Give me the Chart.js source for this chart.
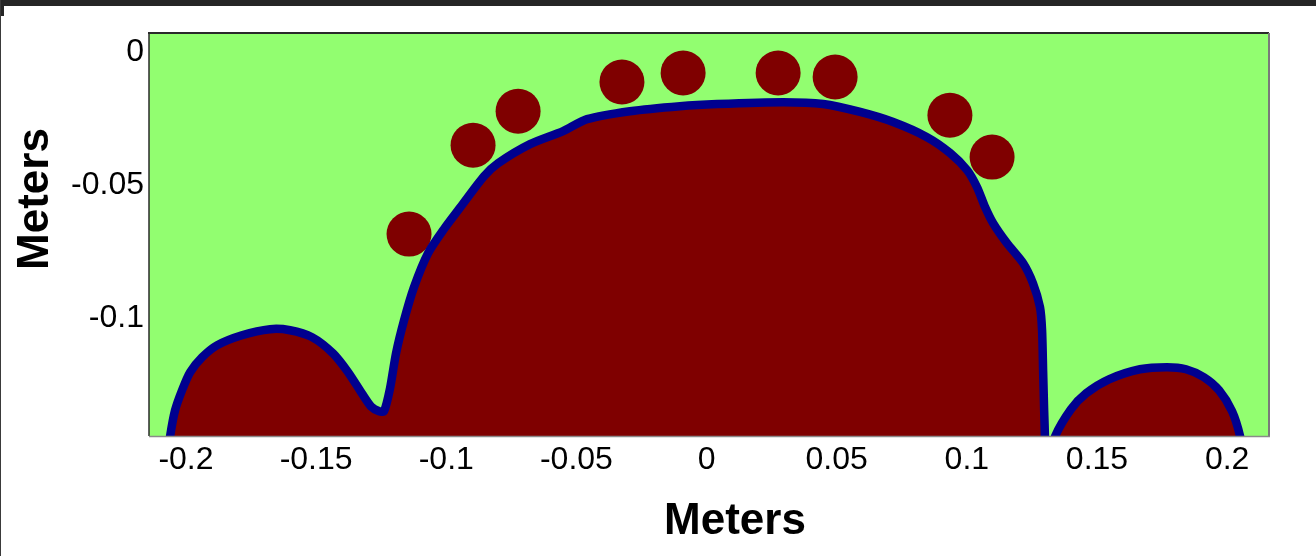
<!DOCTYPE html>
<html>
<head>
<meta charset="utf-8">
<script src="https://cdn.jsdelivr.net/npm/chart.js@4.4.0/dist/chart.umd.min.js"></script>
<style>
  html, body { margin: 0; padding: 0; background: #ffffff; }
  #wrap { position: relative; width: 1316px; height: 556px; overflow: hidden; }
  #plot { position: absolute; left: 0; top: 0; }
  .edge { position: absolute; background: #262626; }
</style>
</head>
<body>
<div id="wrap">
  <canvas id="plot" width="1316" height="556"></canvas>
  <div class="edge" style="left:0;top:0;width:1316px;height:6px"></div>
  <div class="edge" style="left:0;top:0;width:4px;height:16px"></div>
  <div class="edge" style="left:0;top:0;width:1px;height:556px;background:#3a3a3a"></div>
</div>
<script>
// Axis ticks (metres)
const xTicks = [-0.2, -0.15, -0.1, -0.05, 0, 0.05, 0.1, 0.15, 0.2];
const yTicks = [0, -0.05, -0.1];

// Interface of the merged left lobe + central body (x, y in metres)
const bodyX = [-0.2065, -0.2061, -0.2042, -0.2015, -0.1984, -0.1938, -0.1881, -0.1785, -0.1677,
  -0.1600, -0.1516, -0.1435, -0.1377, -0.1324, -0.1289, -0.1258, -0.1239, -0.1216, -0.1193,
  -0.1162, -0.1124, -0.1070, -0.1009, -0.0943, -0.0855, -0.0801, -0.0678, -0.0551, -0.0459,
  -0.0294, -0.0102, 0.0040, 0.0294, 0.0448, 0.0590, 0.0717, 0.0847, 0.0936, 0.1001, 0.1039,
  0.1070, 0.1101, 0.1154, 0.1216, 0.1254, 0.1281, 0.1289, 0.1293, 0.1297, 0.1300, 0.1300];
const bodyY = [-0.1490, -0.1446, -0.1348, -0.1272, -0.1204, -0.1148, -0.1103, -0.1065, -0.1042,
  -0.1046, -0.1072, -0.1133, -0.1204, -0.1284, -0.1333, -0.1351, -0.1351, -0.1265, -0.1133,
  -0.1008, -0.0884, -0.0756, -0.0665, -0.0579, -0.0466, -0.0417, -0.0345, -0.0296, -0.0251,
  -0.0221, -0.0202, -0.0194, -0.0187, -0.0194, -0.0224, -0.0262, -0.0319, -0.0379, -0.0443,
  -0.0507, -0.0582, -0.0643, -0.0718, -0.0793, -0.0869, -0.0959, -0.1046, -0.1197, -0.1348,
  -0.1446, -0.1490];

// Interface of the right lobe
const lobeX = [0.1335, 0.1339, 0.1400, 0.1458, 0.1546, 0.1665, 0.1769, 0.1842, 0.1911,
  0.1969, 0.2019, 0.2050, 0.2053];
const lobeY = [-0.1490, -0.1446, -0.1344, -0.1284, -0.1231, -0.1193, -0.1185, -0.1193, -0.1223,
  -0.1272, -0.1351, -0.1446, -0.1490];

// Detached droplets (centres)
const dropX = [-0.1143, -0.0897, -0.0724, -0.0325, -0.0090, 0.0275, 0.0494, 0.0935, 0.1097];
const dropY = [-0.0684, -0.0349, -0.0221, -0.0111, -0.0077, -0.0077, -0.0092, -0.0236, -0.0394];

const GREEN = '#92fe70';
const MAROON = '#7f0000';
const NAVY = '#00008f';
const FONT = '"Liberation Sans", Arial, Helvetica, sans-serif';

const pts = (xs, ys) => xs.map((x, i) => ({ x: x, y: ys[i] }));

// Light-green field behind the data
const fieldBackground = {
  id: 'fieldBackground',
  beforeDatasetsDraw(chart) {
    const { ctx, chartArea: a } = chart;
    ctx.save();
    ctx.fillStyle = GREEN;
    ctx.fillRect(a.left, a.top, a.right - a.left, a.bottom - a.top);
    ctx.restore();
  }
};

// Box around the plot plus the axis titles
const frameAndTitles = {
  id: 'frameAndTitles',
  afterDraw(chart) {
    const { ctx, chartArea: a } = chart;
    ctx.save();
    ctx.lineWidth = 2;
    ctx.strokeStyle = '#2a2a2a';
    ctx.beginPath();
    ctx.moveTo(a.left - 1, a.top); ctx.lineTo(a.right + 1, a.top);
    ctx.stroke();
    ctx.lineWidth = 1.5;
    ctx.beginPath();
    ctx.moveTo(a.left, a.top); ctx.lineTo(a.left, a.bottom);
    ctx.stroke();
    ctx.strokeStyle = '#7a7a7a';
    ctx.lineWidth = 2;
    ctx.beginPath();
    ctx.moveTo(a.right + 1, a.top); ctx.lineTo(a.right + 1, a.bottom + 1);
    ctx.stroke();
    ctx.lineWidth = 1.5;
    ctx.strokeStyle = '#8a8a8a';
    ctx.beginPath();
    ctx.moveTo(a.left, a.bottom + 0.5); ctx.lineTo(a.right + 2, a.bottom + 0.5);
    ctx.stroke();

    ctx.fillStyle = '#000000';
    ctx.font = 'bold 44px ' + FONT;
    ctx.textAlign = 'center';
    ctx.textBaseline = 'alphabetic';
    ctx.fillText('Meters', 735, 534);
    ctx.translate(48, 199);
    ctx.rotate(-Math.PI / 2);
    ctx.fillText('Meters', 0, 0);
    ctx.restore();
  }
};

new Chart(document.getElementById('plot'), {
  type: 'scatter',
  data: {
    datasets: [
      {
        data: pts(bodyX, bodyY),
        showLine: true,
        fill: 'start',
        backgroundColor: MAROON,
        borderColor: NAVY,
        borderWidth: 8.5,
        borderJoinStyle: 'round',
        tension: 0.25,
        pointRadius: 0,
        pointHoverRadius: 0
      },
      {
        data: pts(lobeX, lobeY),
        showLine: true,
        fill: 'start',
        backgroundColor: MAROON,
        borderColor: NAVY,
        borderWidth: 8.5,
        borderJoinStyle: 'round',
        tension: 0.25,
        pointRadius: 0,
        pointHoverRadius: 0
      },
      {
        data: pts(dropX, dropY),
        showLine: false,
        backgroundColor: MAROON,
        borderWidth: 0,
        pointRadius: 22.5,
        pointHoverRadius: 22.5
      }
    ]
  },
  options: {
    responsive: false,
    animation: false,
    events: [],
    layout: { padding: { top: 33, right: 48, left: 0, bottom: 0 } },
    plugins: { legend: { display: false }, tooltip: { enabled: false } },
    scales: {
      x: {
        type: 'linear',
        min: -0.2142,
        max: 0.2157,
        grid: { display: false, drawTicks: false },
        border: { display: false },
        afterBuildTicks: s => { s.ticks = xTicks.map(v => ({ value: v })); },
        afterFit: s => { s.height = 120; },
        ticks: {
          autoSkip: false,
          maxRotation: 0,
          padding: 5,
          color: '#000000',
          font: { family: FONT, size: 32 },
          callback: v => String(v)
        }
      },
      y: {
        type: 'linear',
        min: -0.14444,
        max: 0.00735,
        grid: { display: false, drawTicks: false },
        border: { display: false },
        afterBuildTicks: s => { s.ticks = yTicks.map(v => ({ value: v })); },
        afterFit: s => { s.width = 149; },
        ticks: {
          autoSkip: false,
          padding: 5,
          color: '#000000',
          font: { family: FONT, size: 32 },
          callback: v => String(v)
        }
      }
    }
  },
  plugins: [fieldBackground, frameAndTitles]
});
</script>
</body>
</html>
